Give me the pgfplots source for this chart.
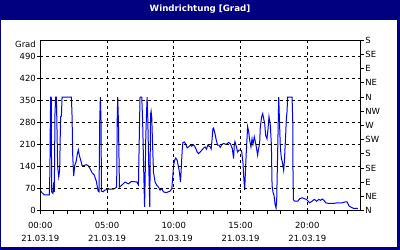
\documentclass[border=0pt]{standalone}
\usepackage{pgfplots}
\pgfplotsset{compat=1.18}
\usepackage{fontspec}
\setmainfont{DejaVu Sans}
\definecolor{navy}{RGB}{0,0,128}
\definecolor{lineblue}{RGB}{0,0,255}
\begin{document}
\begin{tikzpicture}[x=1bp,y=1bp]
\useasboundingbox (0,0) rectangle (400,250);
\fill[navy] (0,0) rectangle (400,250);
\fill[white] (1,3) rectangle (397.3,230);
\node[text=white, font=\fontsize{8.7}{10}\selectfont\bfseries] at (200,240.5) {Windrichtung [Grad]};
\begin{axis}[
  at={(40.3bp,39.3bp)}, anchor=south west,
  scale only axis, width=320.4bp, height=170.4bp,
  xmin=0, xmax=24, ymin=0, ymax=540,
  font=\fontsize{8.5}{10}\selectfont,
  /pgf/number format/assume math mode=true,
  axis line style={black, line width=1bp},
  tick style={black, line width=1bp},
  tick align=outside,
  major tick length=3bp, minor tick length=3bp,
  xtick={0,5,10,15,20},
  minor xtick={1,2,3,4,6,7,8,9,11,12,13,14,16,17,18,19,21,22,23},
  xticklabels={{00:00\\[2.5bp]21.03.19},{05:00\\[2.5bp]21.03.19},{10:00\\[2.5bp]21.03.19},{15:00\\[2.5bp]21.03.19},{20:00\\[2.5bp]21.03.19}},
  xticklabel style={align=center, inner sep=0pt, yshift=-8.5bp},
  ytick={0,70,140,210,280,350,420,490},
  yticklabel style={inner sep=0pt, xshift=-1.3bp},
  xtick pos=bottom, ytick pos=left,
  grid=major,
  major grid style={black, line width=1bp, dash pattern=on 3bp off 3bp},
  minor grid style={draw=none},
  axis on top,
]
\addplot[lineblue, line width=1bp] coordinates {
(0.00,65) (0.10,58) (0.30,50) (0.68,50) (0.72,130) (0.75,282) (0.78,360) (0.82,360)
(0.85,60) (0.95,55) (1.00,90) (1.05,60) (1.10,308) (1.15,360) (1.20,360) (1.24,285)
(1.30,140) (1.38,107) (1.45,128) (1.52,298) (1.58,300) (1.63,360) (2.33,360) (2.38,298)
(2.43,174) (2.50,110) (2.58,143) (2.68,155) (2.78,181) (2.85,193) (2.93,174) (3.03,160)
(3.13,143) (3.28,143) (3.45,146) (3.58,143) (3.73,133) (3.88,120) (4.03,114) (4.20,93)
(4.33,62) (4.40,60) (4.45,282) (4.50,360) (4.55,282) (4.58,62) (4.70,60) (4.83,65)
(5.08,68) (5.45,68) (5.63,72) (5.72,75) (5.76,286) (5.80,360) (5.85,286) (5.93,75)
(6.08,80) (6.35,91) (6.60,85) (6.80,92) (7.00,92) (7.23,91) (7.35,82) (7.38,149)
(7.44,293) (7.47,360) (7.60,360) (7.66,293) (7.75,120) (7.81,12) (7.85,91) (7.90,230)
(7.95,300) (8.00,360) (8.05,293) (8.12,150) (8.20,11) (8.26,306) (8.30,315) (8.35,293)
(8.42,197) (8.48,121) (8.60,91) (8.72,81) (8.85,75) (8.97,65) (9.10,70) (9.22,60)
(9.35,58) (9.48,58) (9.60,60) (9.72,62) (9.85,70) (9.92,107) (9.98,143) (10.06,160)
(10.15,167) (10.25,160) (10.35,139) (10.42,122) (10.50,91) (10.55,128) (10.63,192) (10.68,216)
(10.80,218) (10.90,210) (11.00,199) (11.10,202) (11.25,208) (11.35,204) (11.45,210) (11.55,205)
(11.65,197) (11.75,186) (11.85,181) (11.98,186) (12.10,192) (12.25,199) (12.35,202) (12.45,195)
(12.55,208) (12.65,204) (12.73,202) (12.80,196) (12.86,224) (12.93,260) (12.98,262) (13.08,245)
(13.18,224) (13.28,208) (13.38,208) (13.48,201) (13.60,210) (13.73,213) (13.93,210) (14.10,216)
(14.23,213) (14.28,208) (14.38,197) (14.43,181) (14.48,165) (14.53,208) (14.58,219) (14.68,204)
(14.78,186) (14.88,192) (14.98,192) (15.08,190) (15.13,170) (15.18,154) (15.23,112) (15.31,65)
(15.38,139) (15.43,186) (15.53,266) (15.61,250) (15.68,224) (15.78,202) (15.86,228) (15.93,210)
(16.03,234) (16.11,218) (16.18,202) (16.28,176) (16.33,192) (16.43,213) (16.48,266) (16.58,298)
(16.66,308) (16.73,292) (16.81,276) (16.88,239) (16.98,228) (17.06,260) (17.13,298) (17.23,271)
(17.31,208) (17.36,80) (17.43,59) (17.51,48) (17.58,22) (17.66,8) (17.71,38) (17.78,186)
(17.86,360) (17.91,292) (17.98,200) (18.06,165) (18.13,155) (18.23,128) (18.28,155) (18.38,240)
(18.43,292) (18.48,313) (18.53,360) (18.86,360) (18.91,282) (18.93,117) (18.96,35) (19.05,30)
(19.28,30) (19.43,38) (19.61,41) (19.78,38) (19.93,36) (20.18,25) (20.35,30) (20.53,36)
(20.70,30) (20.86,36) (21.00,33) (21.11,37) (21.25,33) (21.38,25) (21.61,23) (21.98,23)
(22.23,25) (22.61,25) (22.85,28) (22.98,28) (23.13,15) (23.28,11) (23.48,7) (23.78,7)
};
\end{axis}
\node[anchor=north east, inner sep=0pt, font=\fontsize{8.5}{10}\selectfont] at (36,209.3) {Grad};
\begin{axis}[
  at={(40.3bp,39.3bp)}, anchor=south west,
  scale only axis, width=320.4bp, height=170.4bp,
  xmin=0, xmax=24, ymin=0, ymax=540,
  font=\fontsize{8.5}{10}\selectfont,
  axis y line*=right, axis x line=none,
  axis line style={black, line width=1bp},
  tick style={black, line width=1bp},
  tick align=outside, major tick length=3bp,
  ytick={0,45,90,135,180,225,270,315,360,405,450,495,540},
  yticklabels={N,NE,E,SE,S,SW,W,NW,N,NE,E,SE,S},
  yticklabel style={inner sep=0pt, xshift=1.5bp},
]
\end{axis}
\end{tikzpicture}
\end{document}
